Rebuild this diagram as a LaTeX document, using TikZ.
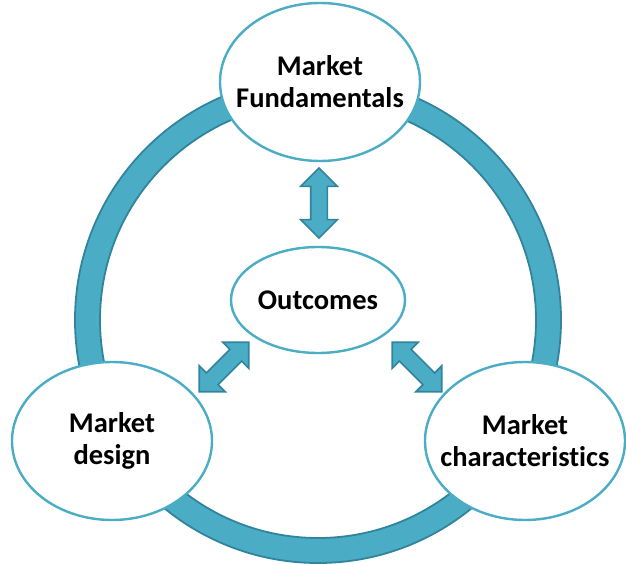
\documentclass[tikz,border=0pt]{standalone}
\usepackage{fontspec}
\setmainfont{Carlito}[Ligatures=NoCommon]
\usetikzlibrary{shapes.geometric,shapes.arrows}
\definecolor{ringblue}{HTML}{4BACC6}
\definecolor{ringdark}{HTML}{31849B}
\begin{document}
\begin{tikzpicture}[x=1pt,y=-1pt,
  bubble/.style={ellipse,draw=ringblue,line width=2.4pt,fill=white,
    minimum width=200pt,minimum height=158pt,inner sep=-30pt,align=center,
    font=\fontsize{28.5}{32}\selectfont\bfseries},
  link/.style={double arrow,draw=ringdark,fill=ringblue,line width=1.6pt,
    minimum height=70pt,inner xsep=0pt,inner ysep=7.5pt,
    double arrow head extend=10pt,double arrow tip angle=90}]
\useasboundingbox (0,0) rectangle (626,564);

%% Outer ring
\fill[ringblue,draw=ringdark,line width=1.8pt,even odd rule]
  (318,320) circle (243pt) (318,320) circle (218pt);

\node[bubble] (fund) at (320,82) {Market\\Fundamentals};
\node[bubble,minimum width=174pt,minimum height=106pt] (outc) at (318,300) {Outcomes};
\node[bubble] (design) at (112,441) {Market\\design};
\node[bubble] (chars) at (525,441) {Market\\characteristics};

%% Double arrows
\node[link,rotate=90] (up) at (319,203) {};
\node[link,rotate=45] (left) at (224,367) {};
\node[link,rotate=-45] (right) at (417,367) {};
\end{tikzpicture}
\end{document}
